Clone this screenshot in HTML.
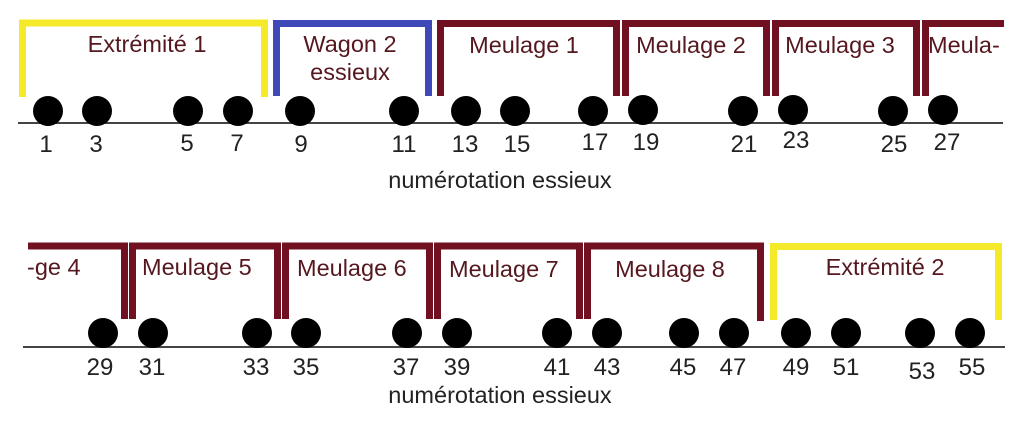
<!DOCTYPE html>
<html><head><meta charset="utf-8"><style>
html,body{margin:0;padding:0;background:#fff;}
svg{display:block;}
text{font-family:"Liberation Sans",sans-serif;}
.l{font-size:23.5px;fill:#55181f;}
.n{font-size:24px;fill:#222;}
.c{font-size:23.5px;fill:#222;}
</style></head><body>
<svg width="1020" height="448" viewBox="0 0 1020 448" xmlns="http://www.w3.org/2000/svg">
<rect width="1020" height="448" fill="#fff"/>
<g fill="none" stroke-width="7" stroke-linejoin="miter">
<path d="M22.5 97 V23 H264.5 V97" stroke="#f5ea2a"/>
<path d="M276.5 96 V23.5 H428.5 V96" stroke="#3f48b8"/>
<g stroke="#701020">
<path d="M440.5 96 V23.5 H616.5 V96"/>
<path d="M625.5 96 V23.5 H766.5 V96"/>
<path d="M775.5 96 V23.5 H916.5 V96"/>
<path d="M925.5 96 V23.5 H1004"/>
<path d="M28 246 H124.5 V319"/>
<path d="M132.5 319 V246 H277.5 V319"/>
<path d="M285.5 319 V246 H429.5 V319"/>
<path d="M437.5 319 V246 H579.5 V319"/>
<path d="M587.5 319 V246 H760.5 V321"/>
</g>
<path d="M773.5 320 V246.5 H998.5 V320" stroke="#f5ea2a"/>
</g>
<line x1="18" y1="123" x2="1003" y2="123" stroke="#444" stroke-width="2"/>
<line x1="23" y1="347" x2="1005" y2="347" stroke="#444" stroke-width="2"/>
<g fill="#000">
<circle cx="48" cy="111" r="15"/><circle cx="97" cy="111" r="15"/><circle cx="188" cy="111" r="15"/><circle cx="238" cy="111" r="15"/><circle cx="300" cy="111" r="15"/><circle cx="404" cy="111" r="15"/><circle cx="466" cy="111" r="15"/><circle cx="515" cy="111" r="15"/><circle cx="593" cy="111" r="15"/><circle cx="643" cy="110" r="15"/><circle cx="743" cy="111" r="15"/><circle cx="793" cy="110" r="15"/><circle cx="893" cy="111" r="15"/><circle cx="943" cy="110" r="15"/>
<circle cx="103" cy="333" r="15"/><circle cx="153" cy="333" r="15"/><circle cx="257" cy="333" r="15"/><circle cx="306" cy="333" r="15"/><circle cx="407" cy="333" r="15"/><circle cx="457" cy="333" r="15"/><circle cx="557" cy="333" r="15"/><circle cx="607" cy="333" r="15"/><circle cx="684" cy="333" r="15"/><circle cx="734" cy="333" r="15"/><circle cx="796" cy="333" r="15"/><circle cx="846" cy="333" r="15"/><circle cx="920" cy="333" r="15"/><circle cx="970" cy="333" r="15"/>
</g>
<g class="n" text-anchor="middle">
<text x="46" y="152">1</text><text x="96" y="152">3</text><text x="187" y="151">5</text><text x="237" y="151">7</text><text x="301" y="152">9</text><text x="404" y="152">11</text><text x="465" y="152">13</text><text x="517" y="152">15</text><text x="595" y="150">17</text><text x="646" y="150">19</text><text x="744" y="152">21</text><text x="796" y="148">23</text><text x="894" y="152">25</text><text x="947" y="150">27</text>
<text x="100" y="375">29</text><text x="152" y="375">31</text><text x="256" y="375">33</text><text x="306" y="375">35</text><text x="406" y="375">37</text><text x="457" y="375">39</text><text x="557" y="375">41</text><text x="607" y="375">43</text><text x="683" y="375">45</text><text x="733" y="375">47</text><text x="796" y="375">49</text><text x="846" y="375">51</text><text x="922" y="379">53</text><text x="972" y="375">55</text>
</g>
<g class="c" text-anchor="middle">
<text x="500" y="188">numérotation essieux</text>
<text x="500" y="403">numérotation essieux</text>
</g>
<g class="l" text-anchor="middle">
<text x="147" y="52">Extrémité 1</text>
<text x="350" y="52">Wagon 2</text>
<text x="350" y="80">essieux</text>
<text x="524" y="53">Meulage 1</text>
<text x="691" y="53">Meulage 2</text>
<text x="840" y="53">Meulage 3</text>
<text x="670" y="277">Meulage 8</text>
<text x="885" y="275">Extrémité 2</text>
</g>
<g class="l">
<text x="928" y="53">Meula-</text>
<text x="27" y="275">-ge 4</text>
<text x="142" y="275">Meulage 5</text>
<text x="297" y="276">Meulage 6</text>
<text x="449" y="277">Meulage 7</text>
</g>
</svg>
</body></html>
